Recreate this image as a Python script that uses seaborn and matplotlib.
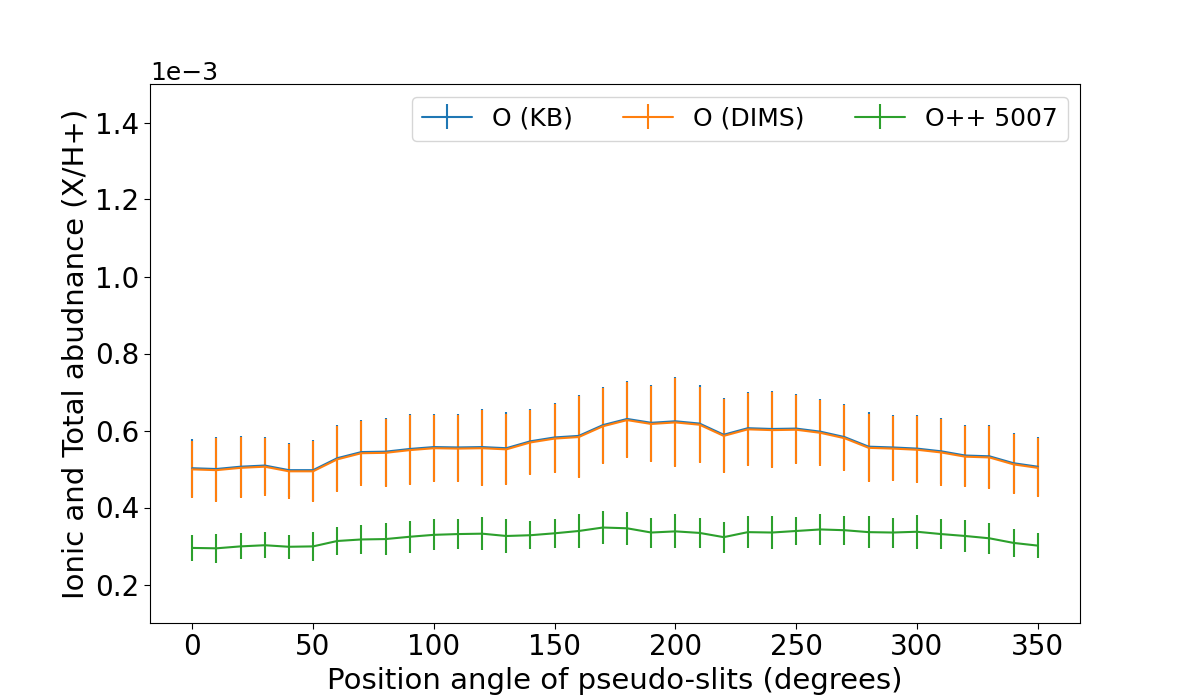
import numpy as np
import matplotlib
matplotlib.use("Agg")
import matplotlib.pyplot as plt
import seaborn as sns

sns.set_style("ticks", rc={
    "text.color": "black",
    "axes.labelcolor": "black",
    "axes.edgecolor": "black",
    "xtick.color": "black",
    "ytick.color": "black",
})
plt.rcParams["font.family"] = ["DejaVu Sans"]

# ---- data (abundances in units of 1e-3) ----
angles = list(range(0, 360, 10))

o_kb = [0.502, 0.500, 0.506, 0.509, 0.497, 0.497, 0.528, 0.544, 0.545, 0.552,
        0.557, 0.556, 0.557, 0.554, 0.572, 0.582, 0.586, 0.614, 0.630, 0.620,
        0.624, 0.618, 0.589, 0.606, 0.604, 0.605, 0.597, 0.583, 0.558, 0.556,
        0.553, 0.546, 0.535, 0.533, 0.515, 0.506]
o_kb_err = [0.075, 0.083, 0.079, 0.075, 0.071, 0.079, 0.086, 0.084, 0.088, 0.090,
            0.087, 0.088, 0.098, 0.093, 0.084, 0.090, 0.106, 0.099, 0.098, 0.098,
            0.116, 0.099, 0.096, 0.095, 0.099, 0.090, 0.085, 0.085, 0.089, 0.084,
            0.087, 0.086, 0.080, 0.082, 0.078, 0.077]

o_dims = [0.499, 0.497, 0.503, 0.506, 0.494, 0.494, 0.525, 0.541, 0.542, 0.549,
          0.554, 0.553, 0.554, 0.551, 0.569, 0.579, 0.583, 0.611, 0.627, 0.617,
          0.621, 0.615, 0.586, 0.603, 0.601, 0.602, 0.594, 0.580, 0.555, 0.553,
          0.550, 0.543, 0.532, 0.530, 0.512, 0.503]
o_dims_err = [0.075, 0.083, 0.079, 0.075, 0.071, 0.079, 0.086, 0.084, 0.088, 0.090,
              0.087, 0.088, 0.098, 0.093, 0.084, 0.090, 0.106, 0.099, 0.098, 0.098,
              0.116, 0.099, 0.096, 0.095, 0.099, 0.090, 0.085, 0.085, 0.089, 0.084,
              0.087, 0.086, 0.080, 0.082, 0.078, 0.077]

o3_5007 = [0.295, 0.294, 0.299, 0.302, 0.298, 0.299, 0.313, 0.317, 0.318, 0.324,
           0.329, 0.331, 0.332, 0.326, 0.328, 0.333, 0.339, 0.348, 0.346, 0.335,
           0.338, 0.334, 0.323, 0.336, 0.335, 0.339, 0.343, 0.341, 0.336, 0.335,
           0.337, 0.331, 0.326, 0.320, 0.308, 0.301]
o3_5007_err = [0.033, 0.037, 0.034, 0.034, 0.031, 0.037, 0.036, 0.037, 0.041, 0.042,
               0.040, 0.040, 0.043, 0.043, 0.037, 0.038, 0.045, 0.044, 0.043, 0.039,
               0.044, 0.040, 0.040, 0.041, 0.044, 0.037, 0.040, 0.038, 0.042, 0.039,
               0.044, 0.040, 0.042, 0.040, 0.036, 0.033]

series = [
    ("O (KB)", o_kb, o_kb_err),
    ("O (DIMS)", o_dims, o_dims_err),
    ("O++ 5007", o3_5007, o3_5007_err),
]

colors = sns.color_palette("tab10", 3)

fig, ax = plt.subplots(figsize=(12, 7), dpi=100)

for (label, vals, errs), col in zip(series, colors):
    y = np.array(vals) * 1e-3
    e = np.array(errs) * 1e-3
    ax.errorbar(angles, y, yerr=e, color=col, label=label, linewidth=1.5)

ax.set_ylim(0.1e-3, 1.5e-3)
ax.set_xlabel("Position angle of pseudo-slits (degrees)", fontsize=21)
ax.set_ylabel("Ionic and Total abudnance (X/H+)", fontsize=21)
ax.tick_params(axis="both", labelsize=20, direction="out", length=4)
ax.ticklabel_format(axis="y", style="sci", scilimits=(0, 0))
ax.yaxis.get_offset_text().set_fontsize(18)

ax.legend(loc="upper right", ncol=3, fontsize=18)

plt.savefig("out.png", dpi=100)
